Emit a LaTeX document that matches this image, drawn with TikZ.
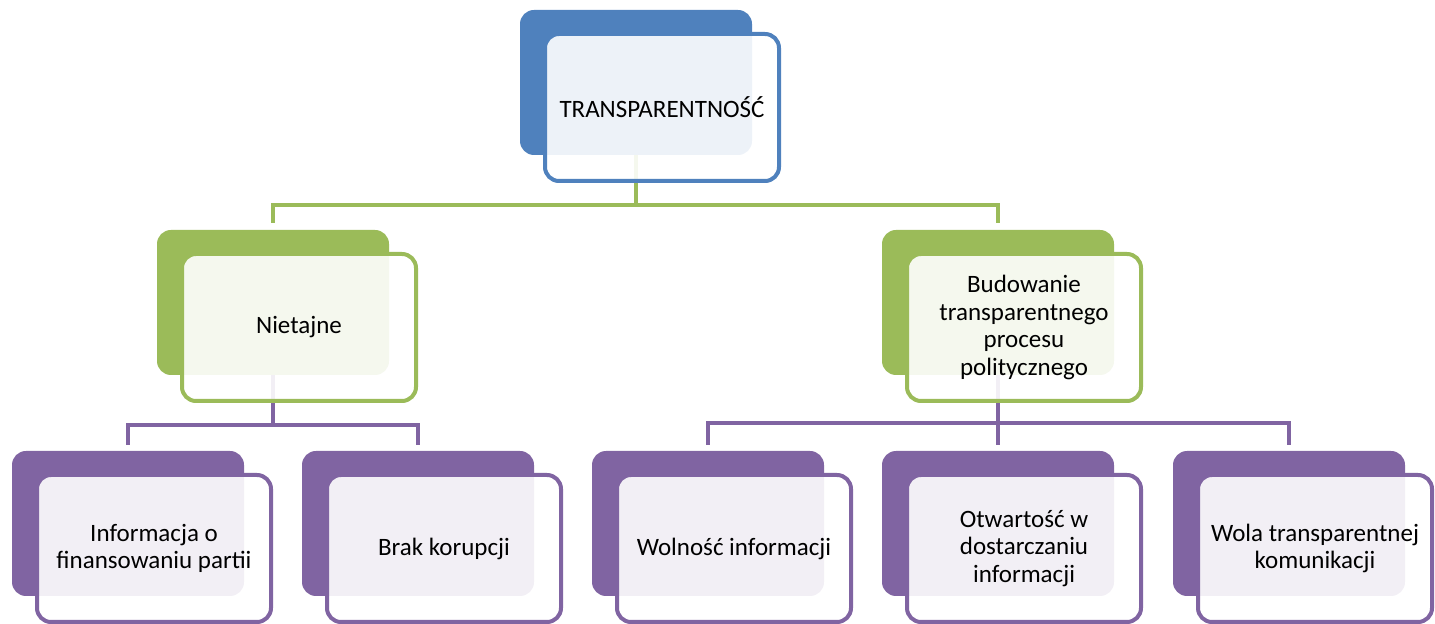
\documentclass[tikz,border=0pt]{standalone}
\usepackage{fontspec}
\setmainfont{Carlito}
\definecolor{ablue}{HTML}{4F81BD}
\definecolor{agreen}{HTML}{9BBB59}
\definecolor{apurple}{HTML}{8064A2}
\tikzset{
  backbox/.style={fill=#1, rounded corners=7pt, minimum width=116pt, minimum height=72.5pt, inner sep=0pt},
  frontbox/.style={draw=#1, line width=2pt, fill=white, fill opacity=0.9, text opacity=1,
    rounded corners=7pt, minimum width=117pt, minimum height=73.5pt, inner sep=2pt,
    align=center, font=\fontsize{12.5}{13.7}\selectfont},
  link/.style={draw=#1, line width=2pt},
}
\begin{document}
\begin{tikzpicture}[x=0.5pt, y=-0.5pt]
	\useasboundingbox (0,0) rectangle (1435,624);

	% Back boxes
	\node[backbox=ablue] (transback) at (636,82.5) {};
	\node[backbox=agreen] (nietback) at (273,302.5) {};
	\node[backbox=agreen] (budback) at (998,302.5) {};
	\node[backbox=apurple] (infback) at (128,523.5) {};
	\node[backbox=apurple] (brakback) at (418,523.5) {};
	\node[backbox=apurple] (wolnback) at (708,523.5) {};
	\node[backbox=apurple] (otwback) at (998,523.5) {};
	\node[backbox=apurple] (wolaback) at (1289,523.5) {};

	% Connectors
	\draw[link=agreen] (transback.south) -- ++(0,50) -| ([yshift=3.5pt]nietback.north);
	\draw[link=agreen] (transback.south) -- ++(0,50) -| ([yshift=3.5pt]budback.north);
	\draw[link=apurple] (nietback.south) -- ++(0,50) -| ([yshift=3pt]infback.north);
	\draw[link=apurple] (nietback.south) -- ++(0,50) -| ([yshift=3pt]brakback.north);
	\draw[link=apurple] (budback.south) -- ++(0,48) -| ([yshift=3pt]wolnback.north);
	\draw[link=apurple] (budback.south) -- ([yshift=3pt]otwback.north);
	\draw[link=apurple] (budback.south) -- ++(0,48) -| ([yshift=3pt]wolaback.north);

	% Front boxes
	\node[frontbox=ablue] (trans) at (662,107.5) {TRANSPARENTNOŚĆ};
	\node[frontbox=agreen] (niet) at (299,327.5) {Nietajne};
	\node[frontbox=agreen] (bud) at (1024,327.5) {Budowanie\\transparentnego\\procesu\\politycznego};
	\node[frontbox=apurple] (inf) at (154,548.5) {Informacja o\\finansowaniu partii};
	\node[frontbox=apurple] (brak) at (444,548.5) {Brak korupcji};
	\node[frontbox=apurple] (woln) at (734,548.5) {Wolność informacji};
	\node[frontbox=apurple] (otw) at (1024,548.5) {Otwartość w\\dostarczaniu\\informacji};
	\node[frontbox=apurple] (wola) at (1315,548.5) {Wola transparentnej\\komunikacji};
\end{tikzpicture}
\end{document}
